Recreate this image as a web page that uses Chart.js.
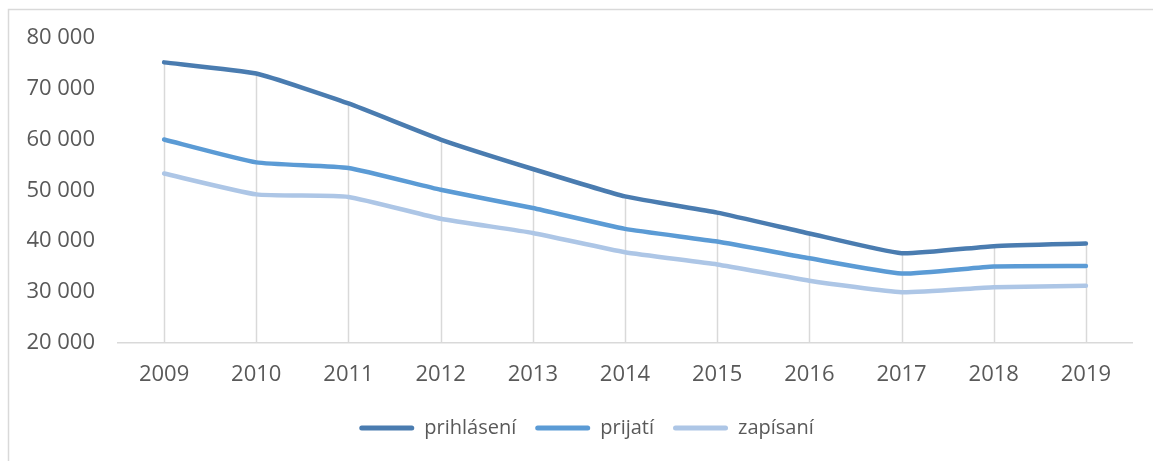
<!DOCTYPE html>
<html>
<head>
<meta charset="utf-8">
<script src="https://cdn.jsdelivr.net/npm/chart.js@4.4.1/dist/chart.umd.min.js"></script>
<style>
  html, body { margin: 0; padding: 0; background: #fff; overflow: hidden; }
  canvas { display: block; }
</style>
</head>
<body>
<canvas id="graf" width="1153" height="461"></canvas>
<script>
// hodnoty odčítané z grafu
const roky = ['2009', '2010', '2011', '2012', '2013', '2014', '2015', '2016', '2017', '2018', '2019']
const prihlaseni = [75200, 73000, 67100, 60000, 54200, 48800, 45600, 41500, 37600, 39000, 39500]
const prijati = [60000, 55500, 54400, 50100, 46500, 42400, 39900, 36600, 33600, 35000, 35100]
const zapisani = [53300, 49200, 48700, 44400, 41600, 37800, 35400, 32200, 29900, 30900, 31200]

const sivaText = '#595959'
const sivaCiara = '#d9d9d9'

// okraj okolo grafu
const ramik = {
  id: 'ramik',
  beforeDraw: (chart) => {
    const c = chart.ctx
    c.save()
    c.strokeStyle = sivaCiara
    c.lineWidth = 1.5
    c.strokeRect(8.5, 9.5, 1300, 600)
    c.restore()
  }
}

// legendu trochu posunúť (vyššie a doprava)
const posunLegendy = {
  id: 'posunLegendy',
  afterLayout: (chart) => {
    const l = chart.legend
    l.top -= 8
    l.bottom -= 8
    l.left += 9
    l.right += 9
  }
}

// zvislé čiary od najvyššieho bodu k osi
const zvisle = {
  id: 'zvisle',
  beforeDatasetsDraw: (chart) => {
    const c = chart.ctx
    const x = chart.scales.x
    const y = chart.scales.y
    c.save()
    c.strokeStyle = sivaCiara
    c.lineWidth = 1.5
    roky.forEach((r, i) => {
      const top = Math.max(...chart.data.datasets.map(d => d.data[i]))
      const px = Math.round(x.getPixelForValue(i)) + 0.5
      c.beginPath()
      c.moveTo(px, y.getPixelForValue(top))
      c.lineTo(px, chart.chartArea.bottom)
      c.stroke()
    })
    c.restore()
  }
}

const seria = (nazov, data, farba) => ({
  label: nazov,
  data: data,
  borderColor: farba,
  backgroundColor: farba,
  borderWidth: 4.5,
  borderCapStyle: 'round',
  borderJoinStyle: 'round',
  pointRadius: 0,
  tension: 0.15
})

new Chart(document.getElementById('graf'), {
  type: 'line',
  data: {
    labels: roky,
    datasets: [
      seria('prihlásení', prihlaseni, '#4a7cb0'),
      seria('prijatí', prijati, '#5b9bd5'),
      seria('zapísaní', zapisani, '#adc6e6')
    ]
  },
  options: {
    responsive: false,
    animation: false,
    events: [],
    layout: { padding: { left: 23, right: 21, top: 38, bottom: 5 } },
    scales: {
      x: {
        offset: true,
        grid: { display: false, drawTicks: false },
        border: { color: sivaCiara, width: 1.5 },
        ticks: { color: sivaText, font: { family: 'Open Sans', size: 22 }, padding: 19, maxRotation: 0 }
      },
      y: {
        min: 20000,
        max: 80000,
        afterFit: (s) => { s.width = 95 },
        grid: { display: false, drawTicks: false },
        border: { display: false },
        ticks: {
          stepSize: 10000,
          color: sivaText,
          padding: 23,
          font: { family: 'Open Sans', size: 22 },
          callback: (v) => String(v).replace(/\B(?=(\d{3})+(?!\d))/g, ' ')
        }
      }
    },
    plugins: {
      legend: {
        position: 'bottom',
        labels: {
          color: sivaText,
          font: { family: 'Open Sans', size: 20 },
          boxWidth: 55,
          boxHeight: 5,
          useBorderRadius: true,
          borderRadius: 2.5,
          padding: 19,
          generateLabels: (chart) => Chart.defaults.plugins.legend.labels.generateLabels(chart).map(l => Object.assign(l, { lineWidth: 0 }))
        }
      },
      tooltip: { enabled: false }
    }
  },
  plugins: [ramik, zvisle, posunLegendy]
})
</script>
</body>
</html>
